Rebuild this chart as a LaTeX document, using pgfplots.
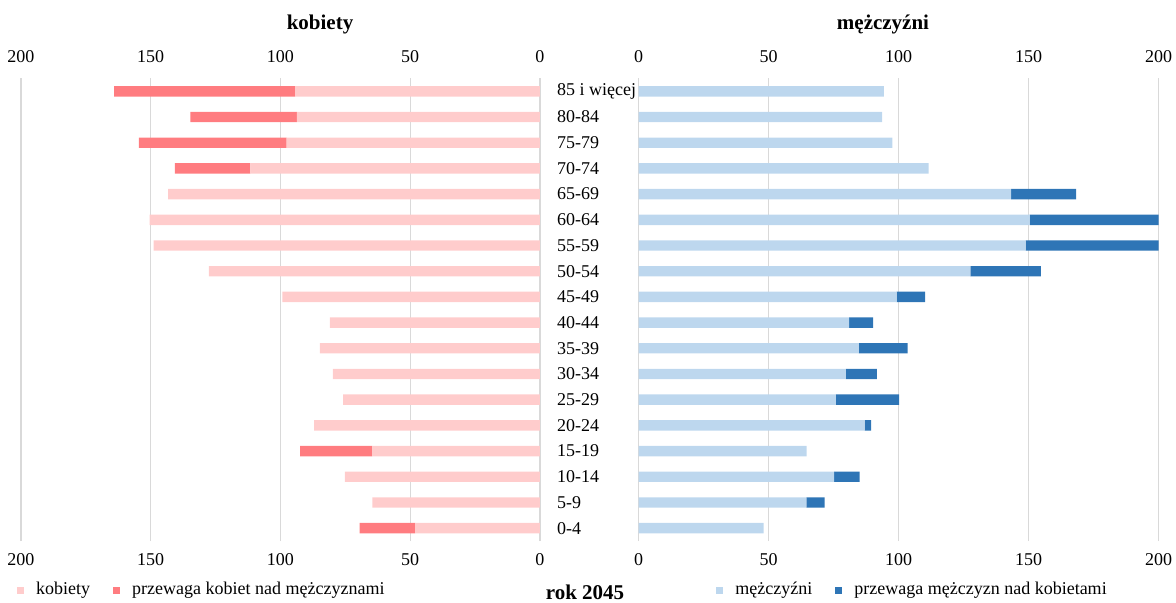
\documentclass[border=0pt]{standalone}
\usepackage{fontspec}
\setmainfont{Liberation Serif}
\usepackage{pgfplots}
\pgfplotsset{compat=1.18}
\usepackage{pgfplotstable}

\definecolor{kobL}{RGB}{255,204,204}
\definecolor{kobD}{RGB}{255,124,128}
\definecolor{mezL}{RGB}{189,215,238}
\definecolor{mezD}{RGB}{46,117,182}
\definecolor{gridgray}{RGB}{217,217,217}

% light = common part, wd = excess of women, md = excess of men
\pgfplotstableread{
y light wd md
0 48.1 21.4 0
1 64.6 0 7.0
2 75.2 0 9.8
3 64.7 27.7 0
4 87.0 0 2.5
5 75.9 0 24.3
6 79.8 0 11.9
7 84.8 0 18.7
8 81.0 0 9.2
9 99.3 0 10.9
10 127.6 0 27.2
11 148.9 0 53.0
12 150.4 0 52.0
13 143.3 0 25.0
14 111.6 29.1 0
15 97.6 57.0 0
16 93.7 41.0 0
17 94.4 69.7 0
}\pyramid

\pgfplotsset{
  pyr/.style={
    scale only axis, height=231.25pt,
    xmin=0, xmax=200, ymin=-0.5, ymax=17.5,
    xtick={0,50,100,150,200},
    ytick=\empty,
    axis line style={draw=none},
    major tick length=0pt,
    tick label style={font=\fontsize{9}{10}\selectfont, text=black},
    /pgf/number format/assume math mode=true,
  },
  lgd/.style={
    legend style={draw=none, fill=none, inner sep=0pt, anchor=west,
      legend columns=-1, font=\fontsize{9}{10}\selectfont,
      /tikz/every even column/.append style={column sep=9.5pt}},
  },
  sq/.style={legend image code/.code={%
    \fill[##1] (0pt,-1.75pt) rectangle (3.5pt,1.75pt); \path (7.5pt,0pt);}},
}

\begin{document}
\begin{tikzpicture}

% kobiety
\begin{axis}[pyr, lgd, at={(10.5pt,-270.5pt)}, anchor=south west, width=259.5pt,
  x dir=reverse, xbar stacked, bar width=5.2pt,
  xmajorgrids, grid style={gridgray, line width=0.6pt},
  xticklabel pos=lower, xticklabel style={yshift=-2.7pt},
  ytick={0,...,17},
  yticklabels={0-4,5-9,10-14,15-19,20-24,25-29,30-34,35-39,40-44,45-49,50-54,55-59,60-64,65-69,70-74,75-79,80-84,85 i więcej},
  yticklabel pos=right, yticklabel style={anchor=west, xshift=5pt},
  legend style={at={(-0.008,-0.106)}}]
\addplot[fill=kobL, draw=none, sq] table[x=light, y=y] {\pyramid};
\addplot[fill=kobD, draw=none, sq] table[x=wd, y=y] {\pyramid};
\legend{kobiety, przewaga kobiet nad mężczyznami}
\end{axis}
\begin{axis}[pyr, at={(10.5pt,-270.5pt)}, anchor=south west, width=259.5pt,
  x dir=reverse, xticklabel pos=upper, xticklabel style={yshift=4.45pt}]
\end{axis}

% mężczyźni
\begin{axis}[pyr, lgd, at={(319.25pt,-270.5pt)}, anchor=south west, width=260pt,
  xbar stacked, bar width=5.2pt,
  xmajorgrids, grid style={gridgray, line width=0.6pt},
  xticklabel pos=lower, xticklabel style={yshift=-2.7pt},
  legend style={at={(0.149,-0.106)}}]
\addplot[fill=mezL, draw=none, sq] table[x=light, y=y] {\pyramid};
\addplot[fill=mezD, draw=none, sq] table[x=md, y=y] {\pyramid};
\legend{mężczyźni, przewaga mężczyzn nad kobietami}
\end{axis}
\begin{axis}[pyr, at={(319.25pt,-270.5pt)}, anchor=south west, width=260pt,
  xticklabel pos=upper, xticklabel style={yshift=4.45pt}]
\end{axis}

\node[font=\bfseries\fontsize{10.5}{12}\selectfont, anchor=base] at (160pt,-15pt) {kobiety};
\node[font=\bfseries\fontsize{10.5}{12}\selectfont, anchor=base] at (441.5pt,-15pt) {mężczyźni};
\node[font=\bfseries\fontsize{10.5}{12}\selectfont, anchor=base] at (292.5pt,-299.5pt) {rok 2045};

\pgfresetboundingbox
\path[use as bounding box] (0pt,0pt) rectangle (588pt,-301.5pt);
\end{tikzpicture}
\end{document}
